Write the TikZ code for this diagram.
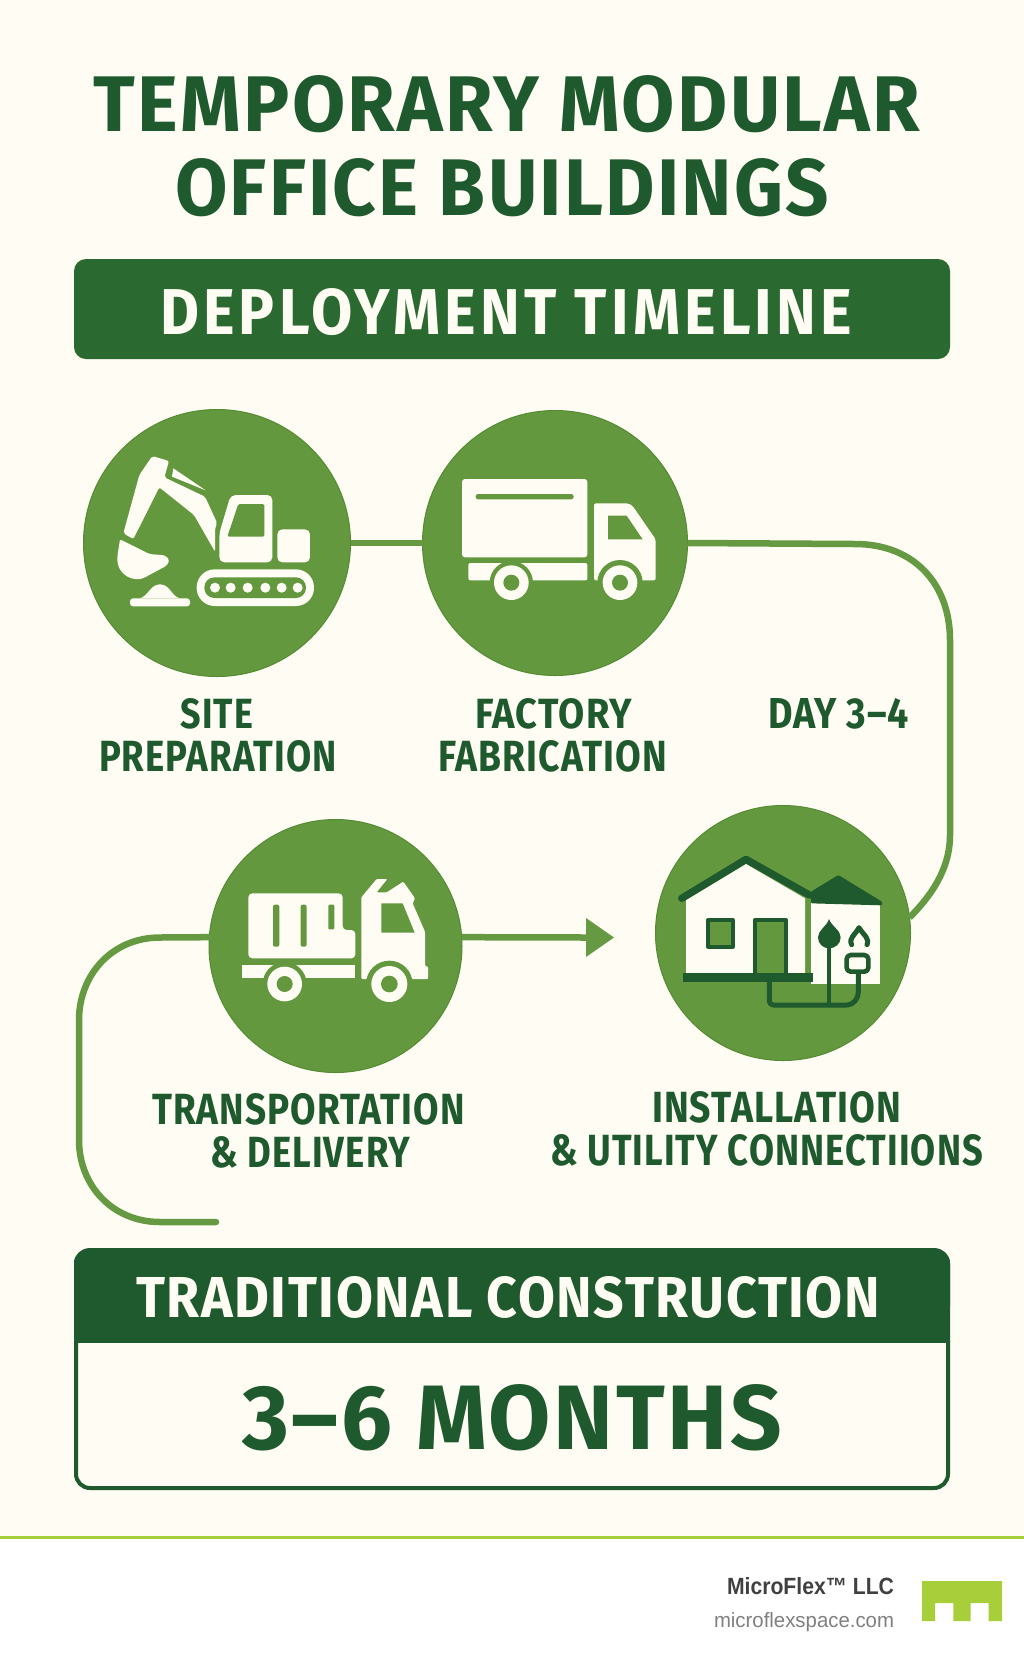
\documentclass[tikz,border=0pt]{standalone}
\usepackage{fontspec}
\usepackage{graphicx}
\setmainfont{Fira Sans}[BoldFont=*-Bold]
\newfontfamily\headf{Fira Sans Bold}[LetterSpace=3]
\newfontfamily\headsp{Fira Sans Bold}[LetterSpace=7]
\newfontfamily\footf{Liberation Sans}
\definecolor{bgc}{HTML}{FEFCF3}
\definecolor{banc}{HTML}{2A692F}
\definecolor{darkc}{HTML}{1E5A2D}
\definecolor{midc}{HTML}{64983F}
\definecolor{edgec}{HTML}{548C33}
\definecolor{linec}{HTML}{659A42}
\definecolor{limec}{HTML}{A8CF3A}
\definecolor{grayc}{HTML}{404040}
\definecolor{lgrayc}{HTML}{808080}
\tikzset{
  stepdisc/.style={circle,fill=midc,draw=edgec,line width=1pt,inner sep=0pt,outer sep=0pt,minimum size=#1},
  conn/.style={draw=linec,line width=6.5pt,line cap=round},
  iw/.style={fill=bgc,draw=none},
  ig/.style={fill=midc,draw=none},
  idk/.style={fill=darkc,draw=none},
  iline/.style={draw=darkc,fill=none,line join=round,line cap=round},
  icon/.style={x=0.33333pt,y=-0.33333pt},
  lab/.style={inner sep=0pt,outer sep=0pt,anchor=base west},
}
% name, x0, ytop, x1, ybase, colour, font, text
\newcommand{\fittext}[8]{%
  \node[lab,text=#6] (#1) at (#2,#5)
    {\resizebox{\dimexpr #4pt-#2pt\relax}{\dimexpr #5pt-#3pt\relax}{#7\fontsize{40pt}{40pt}\selectfont #8}};}
\begin{document}
\begin{tikzpicture}[x=1pt,y=-1pt]
\useasboundingbox (0,0) rectangle (1024,1666);
\fill[white] (0,0) rectangle (1024,1666);
\fill[bgc] (0,0) rectangle (1024,1536);
\fill[limec] (0,1536) rectangle (1024,1539);

% title
\fittext{t1}{93.5}{75}{920}{131}{darkc}{\headf}{TEMPORARY MODULAR}
\fittext{t2}{175}{158}{829}{215}{darkc}{\headf}{OFFICE BUILDINGS}

% banner
\node[rectangle,rounded corners=12pt,fill=banc,inner sep=0pt,minimum width=876pt,minimum height=100pt] (banner) at (512,309) {};
\fittext{bant}{160}{288}{852}{334}{bgc}{\headsp}{DEPLOYMENT TIMELINE}

% discs
\node[stepdisc=267pt] (c1) at (217,543) {};
\node[stepdisc=265pt] (c2) at (555,543) {};
\node[stepdisc=253pt] (c3) at (335.5,946) {};
\node[stepdisc=255pt] (c4) at (783,933) {};

% connectors
\draw[conn,line cap=butt] (c1.east) -- (c2.west);
\coordinate (k1) at (855,544);
\coordinate (k2) at (950,640);
\coordinate (k3) at (950,835);
\draw[conn,line cap=butt] (c2.east) -- (k1) .. controls (915,544) and (950,585) .. (k2) -- (k3)
   .. controls (950,870) and (930,897) .. (c4.7);
\coordinate (k4) at (160,937.5);
\coordinate (k5) at (79,1020);
\coordinate (k6) at (79,1140);
\coordinate (k7) at (160,1222);
\coordinate (k8) at (216,1222);
\draw[conn] (k8) -- (k7) .. controls (112,1222) and (79,1185) .. (k6) -- (k5)
   .. controls (79,975) and (112,937.5) .. (k4) -- (c3.176);
\coordinate (a1) at (586,937.5);
\coordinate (a2) at (614,937.5);
\draw[conn,line cap=butt] (c3.4) -- (a1);
\fill[linec] (a2) -- (586,918) -- (586,957) -- cycle;

% icon 1 : excavator
\begin{scope}[shift={(70,400)},icon]
 \fill[iw,rounded corners=2pt] (160,400) -- (208,225) -- (247,168) -- (297,183) -- (283,232) -- (405,290) -- (442,370) -- (435,385) -- (435,455) -- (372,345) -- (268,262) -- (190,417) -- cycle;
 \fill[iw] (310,205) -- (407,271) -- (306,230) -- cycle;
 \fill[iw,rounded corners=2pt] (150,418) -- (238,462) -- (285,466) -- (299,480) -- (290,497) -- (225,532) .. controls (195,545) and (142,530) .. (142,470) -- cycle;
 \fill[ig,rounded corners=1pt] (240,452) -- (258,440) -- (271,452) -- (255,464) -- cycle;
 \fill[iw] (208,595) .. controls (235,590) and (240,553) .. (270,553) .. controls (300,553) and (305,590) .. (330,595) -- cycle;
 \fill[iw,rounded corners=3pt] (180,595) rectangle (360,619);
 \fill[iw,rounded corners=5pt] (448,400) -- (482,285) -- (607,285) -- (607,487) -- (448,487) -- cycle;
 \fill[ig,rounded corners=1.5pt] (472,410) -- (505,312) -- (583,312) -- (583,410) -- cycle;
 \fill[iw,rounded corners=5pt] (622,388) rectangle (720,487);
 \fill[iw,rounded corners=18pt] (380,508) rectangle (732,618);
 \fill[ig,rounded corners=10pt] (403,532) rectangle (708,594);
 \foreach \wx in {435,482,533,586,635,683} \fill[iw] (\wx,563) circle[radius=15];
\end{scope}

% icon 2 : truck
\begin{scope}[shift={(410,400)},icon]
 \fill[iw,rounded corners=3pt] (156,237) rectangle (532,472);
 \fill[ig,rounded corners=2.5pt] (197,282) rectangle (491,298);
 \fill[iw,rounded corners=2pt] (175,489) rectangle (532,541);
 \fill[iw,rounded corners=2pt] (552,310) -- (655,310) -- (668,318) -- (737,418) -- (737,541) -- (552,541) -- cycle;
 \fill[ig] (594,347) -- (650,347) -- (698,418) -- (594,418) -- cycle;
 \fill[ig] (304,548) circle[radius=65];
 \fill[ig] (630,548) circle[radius=68];
 \fill[iw] (304,548) circle[radius=52];
 \fill[ig] (304,548) circle[radius=24];
 \fill[iw] (630,548) circle[radius=52];
 \fill[ig] (630,548) circle[radius=24];
\end{scope}

% icon 3 : delivery truck
\begin{scope}[shift={(200,810)},icon]
 \fill[iw,rounded corners=4pt] (145,250) -- (428,250) -- (428,360) -- (466,360) -- (466,445) -- (145,445) -- cycle;
 \fill[ig,rounded corners=2pt] (219,284) rectangle (238,410);
 \fill[ig,rounded corners=2pt] (302,284) rectangle (320,410);
 \fill[ig,rounded corners=1pt] (385,284) rectangle (403,358);
 \fill[iw] (125,465) rectangle (466,505);
 \fill[iw,rounded corners=1pt] (484,262) -- (530,207) -- (562,207) -- (530,247) -- (560,247) -- (610,215) -- (645,265) -- (638,280) -- (675,365) -- (675,468) -- (684,470) -- (684,507) -- (484,507) -- cycle;
 \fill[ig] (544,280) -- (608,280) -- (644,368) -- (544,368) -- cycle;
 \fill[ig] (254,522) circle[radius=66];
 \fill[ig] (568,522) circle[radius=70];
 \fill[iw] (254,522) circle[radius=52];
 \fill[ig] (254,522) circle[radius=24];
 \fill[iw] (568,522) circle[radius=54];
 \fill[ig] (568,522) circle[radius=25];
\end{scope}

% icon 4 : house and utilities
\begin{scope}[shift={(640,800)},icon]
 \fill[iw] (138,300) -- (318,192) -- (495,295) -- (495,525) -- (138,525) -- cycle;
 \fill[iw] (513,300) rectangle (720,552);
 \fill[idk,rounded corners=1pt] (513,275) -- (595,225) -- (726,305) -- (726,316) -- (513,310) -- cycle;
 \draw[iline,line width=7.3pt] (125,295) -- (318,178) -- (508,285);
 \draw[iline,fill=midc,line width=4pt] (204,360) rectangle (278,440);
 \draw[iline,fill=midc,line width=4.3pt] (346,525) -- (346,360) -- (437,360) -- (437,525);
 \fill[idk] (130,520) rectangle (520,547);
 \draw[iline,line width=5pt,rounded corners=4pt] (388,547) -- (388,615) -- (610,615) .. controls (640,615) and (655,595) .. (655,565) -- (655,515);
 \draw[iline,line width=4.6pt] (567,440) -- (567,615);
 \fill[idk] (567,357) .. controls (560,380) and (534,390) .. (534,412) .. controls (534,432) and (550,445) .. (567,445) .. controls (585,445) and (602,432) .. (602,412) .. controls (602,390) and (575,380) .. (567,357) -- cycle;
 \draw[iline,line width=5pt] (635,434) .. controls (625,415) and (645,405) .. (657,383) .. controls (670,405) and (690,415) .. (681,434);
 \draw[iline,fill=bgc,line width=4.6pt,rounded corners=4pt] (620,465) rectangle (685,515);
\end{scope}

% step labels
\fittext{l1a}{180.5}{698}{253}{728}{darkc}{\headf}{SITE}
\fittext{l1b}{99}{740}{337}{771}{darkc}{\headf}{PREPARATION}
\fittext{l2a}{475}{698}{632}{728}{darkc}{\headf}{FACTORY}
\fittext{l2b}{438}{740}{667}{771}{darkc}{\headf}{FABRICATION}
\fittext{l3}{768}{698}{909}{728}{darkc}{\headf}{DAY 3–4}
\fittext{l4a}{152}{1093}{465}{1124}{darkc}{\headf}{TRANSPORTATION}
\fittext{l4b}{210}{1136}{410}{1167}{darkc}{\headf}{\& DELIVERY}
\fittext{l5a}{652}{1091}{901}{1122}{darkc}{\headf}{INSTALLATION}
\fittext{l5b}{550}{1134}{983}{1165}{darkc}{\headf}{\& UTILITY CONNECTIIONS}

% bottom panel
\node[rectangle,rounded corners=14pt,fill=bgc,draw=darkc,line width=4pt,inner sep=0pt,minimum width=872pt,minimum height=238pt] (panel) at (512,1369) {};
\fill[darkc,rounded corners=14pt] (74,1320) -- (74,1249) -- (950,1249) -- (950,1320) -- cycle;
\fill[darkc] (74,1300) rectangle (950,1343);
\fittext{p1}{136}{1276}{880}{1317}{bgc}{\headf}{TRADITIONAL CONSTRUCTION}
\fittext{p2}{242}{1384}{782}{1449}{darkc}{\headf}{3–6 MONTHS}

% footer
\fittext{brand}{727}{1577}{894}{1594}{grayc}{\footf\bfseries}{MicroFlex™ LLC}
\fittext{site}{714}{1612}{894}{1627}{lgrayc}{\footf}{microflexspace.com}
\fill[limec] (922,1581) -- (1002,1581) -- (1002,1621) -- (988.7,1621) -- (988.7,1603) -- (970.7,1603) -- (970.7,1621) -- (953.3,1621) -- (953.3,1603) -- (935,1603) -- (935,1621) -- (922,1621) -- cycle;
\end{tikzpicture}
\end{document}
